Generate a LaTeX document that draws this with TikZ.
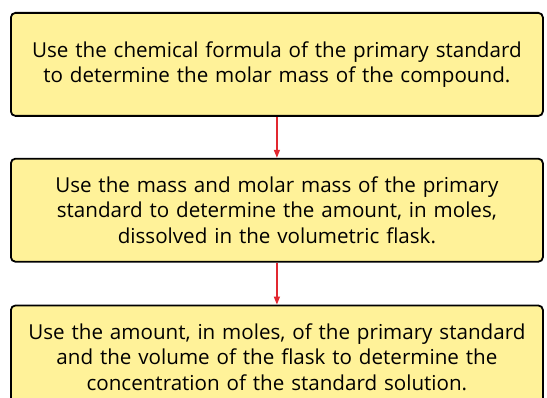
\documentclass[tikz,border=0pt]{standalone}
\usepackage{fontspec}
\setmainfont{Open Sans}
\usetikzlibrary{positioning,arrows.meta}
\definecolor{stagefill}{RGB}{255,242,153}
\definecolor{flowred}{RGB}{226,40,48}

\begin{document}
\begin{tikzpicture}[
  x=1pt, y=1pt,
  >={Triangle[length=8pt,width=6pt]},
  stage/.style={draw, line width=1.8pt, rounded corners=4.5pt, fill=stagefill, align=center, text width=525pt, minimum width=532pt, minimum height=103pt, inner sep=0pt, font=\fontsize{20.6}{25.6}\selectfont},
  flow/.style={->, draw=flowred, fill=flowred, line width=1.3pt}
]
  \useasboundingbox (0,0) rectangle (547,-398);
  \node[stage, anchor=north west] (formula) at (10,-12) {Use the chemical formula of the primary standard\\ to determine the molar mass of the compound.};
  \node[stage, below=41pt of formula] (amount) {Use the mass and molar mass of the primary\\ standard to determine the amount, in moles,\\ dissolved in the volumetric flask.};
  \node[stage, below=42pt of amount] (conc) {Use the amount, in moles, of the primary standard\\ and the volume of the flask to determine the\\ concentration of the standard solution.};
  \draw[flow] (formula) -- (amount);
  \draw[flow] (amount) -- (conc);
\end{tikzpicture}
\end{document}
